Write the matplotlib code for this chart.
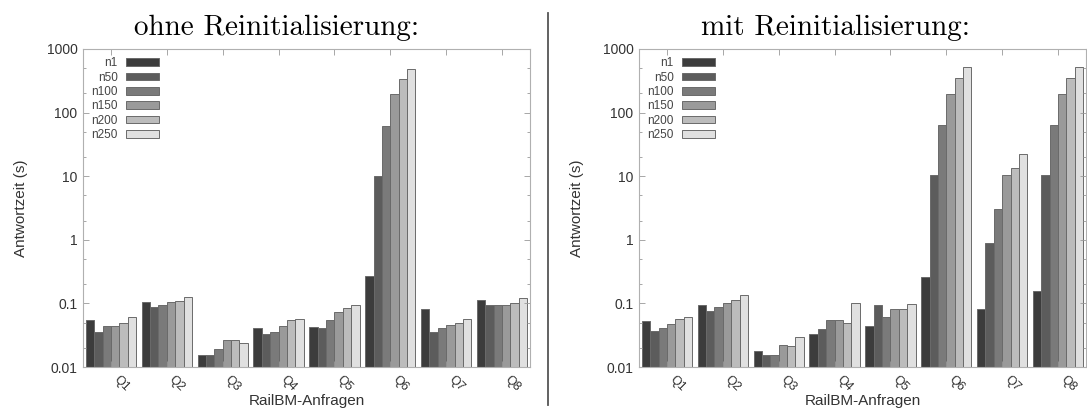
import numpy as np
import matplotlib
matplotlib.use('Agg')
import matplotlib.pyplot as plt
from matplotlib.lines import Line2D
from matplotlib.ticker import FixedLocator, LogLocator, NullFormatter

plt.rcParams['font.family'] = ['Liberation Sans', 'DejaVu Sans']

queries = ['Q1', 'Q2', 'Q3', 'Q4', 'Q5', 'Q6', 'Q7', 'Q8']
series = ['n1', 'n50', 'n100', 'n150', 'n200', 'n250']
colors = ['#3c3c3c', '#5c5c5c', '#7a7a7a', '#9a9a9a', '#bcbcbc', '#e0e0e0']

# ohne Reinitialisierung
ohne_n1 = [0.054, 0.104, 0.0147, 0.0405, 0.0416, 0.27, 0.081, 0.114]
ohne_n50 = [0.034, 0.087, 0.0147, 0.0326, 0.0405, 10.0, 0.035, 0.094]
ohne_n100 = [0.043, 0.095, 0.018, 0.034, 0.053, 62.0, 0.040, 0.094]
ohne_n150 = [0.043, 0.106, 0.026, 0.043, 0.072, 197.0, 0.045, 0.092]
ohne_n200 = [0.049, 0.110, 0.026, 0.053, 0.083, 340.0, 0.049, 0.101]
ohne_n250 = [0.060, 0.124, 0.0226, 0.056, 0.095, 493.0, 0.056, 0.120]

# mit Reinitialisierung
mit_n1 = [0.052, 0.094, 0.017, 0.0326, 0.043, 0.26, 0.081, 0.155]
mit_n50 = [0.036, 0.076, 0.0147, 0.039, 0.095, 10.4, 0.9, 10.4]
mit_n100 = [0.0405, 0.086, 0.0147, 0.053, 0.060, 64.5, 3.1, 64.5]
mit_n150 = [0.046, 0.101, 0.0208, 0.053, 0.081, 197.0, 10.4, 197.0]
mit_n200 = [0.055, 0.114, 0.0205, 0.049, 0.081, 350.0, 13.5, 350.0]
mit_n250 = [0.060, 0.137, 0.029, 0.101, 0.097, 525.0, 22.0, 525.0]

ohne = [ohne_n1, ohne_n50, ohne_n100, ohne_n150, ohne_n200, ohne_n250]
mit = [mit_n1, mit_n50, mit_n100, mit_n150, mit_n200, mit_n250]

W, H = 1087, 411
fig = plt.figure(figsize=(W / 100, H / 100), dpi=100)


def draw(ax, data):
    x = np.arange(len(queries))
    width = 0.15
    for j, vals in enumerate(data):
        ax.bar(x + (j - 2.5) * width, vals, width, bottom=0.001, color=colors[j],
               edgecolor='#6a6a6a', linewidth=0.7, label=series[j])
    ax.set_yscale('log')
    ax.set_ylim(0.01, 1000)
    ax.set_xlim(-0.5, len(queries) - 0.5)
    ax.yaxis.set_major_locator(FixedLocator([0.01, 0.1, 1, 10, 100, 1000]))
    ax.set_yticklabels(['0.01', '0.1', '1', '10', '100', '1000'], fontsize=10, color='#333333')
    ax.yaxis.set_minor_locator(LogLocator(base=10, subs=[2, 5]))
    ax.yaxis.set_minor_formatter(NullFormatter())
    ax.set_xticks(x)
    ax.set_xticklabels(queries, rotation=-45, ha='left', va='top', fontsize=9, color='#333333')
    ax.tick_params(which='both', direction='in', top=True, right=True, color='#999999')
    ax.tick_params(which='major', length=4, width=0.6, pad=4)
    ax.tick_params(which='minor', length=2, width=0.6)
    ax.tick_params(axis='x', pad=5)
    for s in ax.spines.values():
        s.set_color('#b0b0b0')
        s.set_linewidth(0.8)
    ax.set_xlabel('RailBM-Anfragen', fontsize=11, color='#333333', labelpad=0)
    ax.set_ylabel('Antwortzeit (s)', fontsize=11, color='#333333')
    ax.yaxis.set_label_coords(-55 / 447, 0.5)
    leg = ax.legend(loc='upper left', bbox_to_anchor=(0.0, 1.0), frameon=False,
                    markerfirst=False, fontsize=8.5, handlelength=2.8,
                    handleheight=0.6, labelspacing=0.2, handletextpad=0.7,
                    borderaxespad=0.3)
    for t in leg.get_texts():
        t.set_color('#444444')


ax1 = fig.add_axes([83 / W, (H - 367) / H, 447 / W, 318 / H])
draw(ax1, ohne)
ax2 = fig.add_axes([639 / W, (H - 367) / H, 447 / W, 318 / H])
draw(ax2, mit)

fig.text(276 / W, 1 - 35 / H, 'ohne Reinitialisierung:', fontfamily='cmr10', fontsize=21,
         ha='center', va='baseline')
fig.text(835 / W, 1 - 35 / H, 'mit Reinitialisierung:', fontfamily='cmr10', fontsize=21,
         ha='center', va='baseline')

fig.add_artist(Line2D([548 / W, 548 / W], [1 - 13 / H, 1 - 405 / H], color='#555555', linewidth=1.3))

fig.savefig('out.png', dpi=100)
